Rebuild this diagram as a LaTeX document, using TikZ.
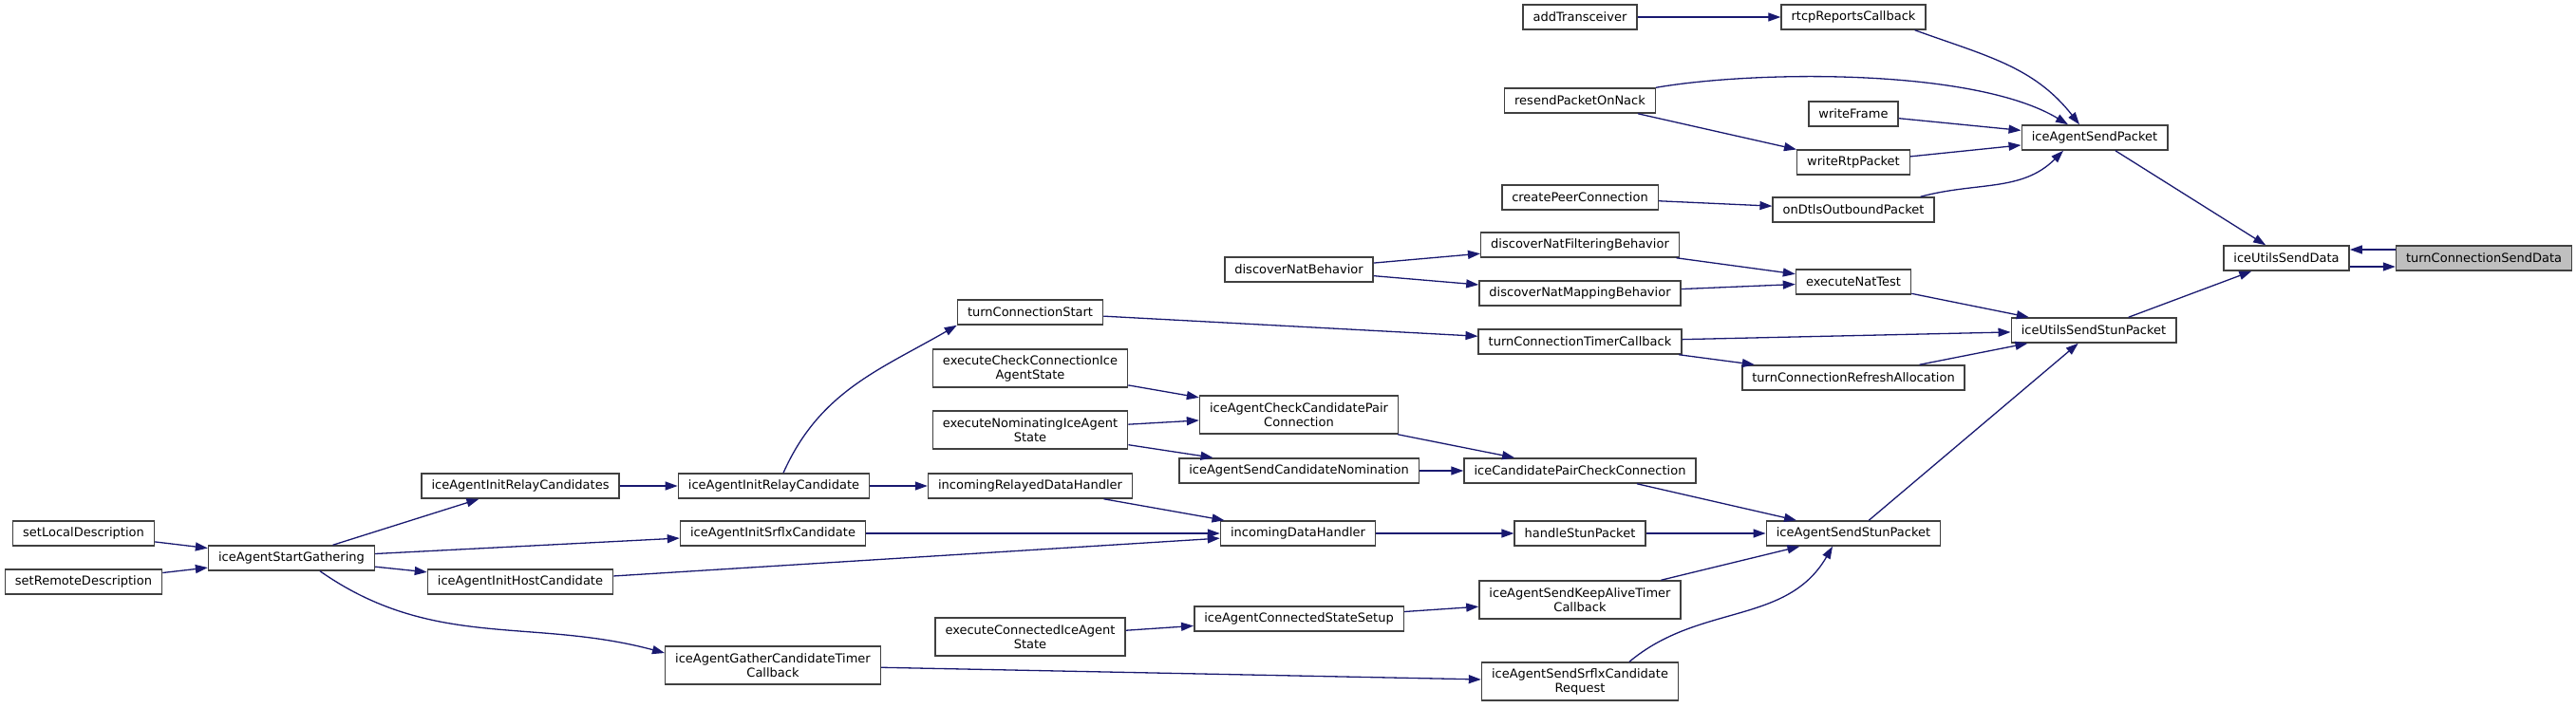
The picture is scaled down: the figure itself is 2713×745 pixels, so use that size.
\documentclass[tikz,border=0pt]{standalone}
\usepackage{fontspec}
\setmainfont{DejaVu Sans}
\usetikzlibrary{arrows.meta}
\definecolor{edgeblue}{HTML}{191970}
\definecolor{curgray}{HTML}{BFBFBF}
\begin{document}
\begin{tikzpicture}[x=1pt, y=1pt,
		t/.style = {rectangle, draw=black!75, line width=1.5pt, fill=white, inner xsep=10.5pt, inner ysep=2pt, minimum height=26pt, font=\fontsize{13}{15}\selectfont},
		t2/.style = {t, align=center, minimum height=40pt},
		cur/.style = {t, fill=curgray},
		r/.style = {->, >={Triangle[length=13pt, width=9pt]}, draw=edgeblue, line width=1.3pt}
		]
		\useasboundingbox (0,0) rectangle (2713,-745);
		
		%Nodes
		\node[t]	(sld)	at	(88,-562)	{setLocalDescription};
		\node[t]	(srd)	at	(88,-613)	{setRemoteDescription};
		\node[t]	(sg)	at	(307,-588)	{iceAgentStartGathering};
		\node[t]	(irs)	at	(548,-512)	{iceAgentInitRelayCandidates};
		\node[t]	(ihc)	at	(548,-613)	{iceAgentInitHostCandidate};
		\node[t]	(irc)	at	(815,-512)	{iceAgentInitRelayCandidate};
		\node[t]	(isc)	at	(814,-562)	{iceAgentInitSrflxCandidate};
		\node[t2]	(gtc)	at	(814,-701)	{iceAgentGatherCandidateTimer\\Callback};
		\node[t]	(tcs)	at	(1085,-329)	{turnConnectionStart};
		\node[t2]	(eci)	at	(1085,-388)	{executeCheckConnectionIce\\AgentState};
		\node[t2]	(eni)	at	(1085,-453)	{executeNominatingIceAgent\\State};
		\node[t]	(rdh)	at	(1085,-512)	{incomingRelayedDataHandler};
		\node[t2]	(eca)	at	(1085,-671)	{executeConnectedIceAgent\\State};
		\node[t]	(dnb)	at	(1368,-284)	{discoverNatBehavior};
		\node[t2]	(ccp)	at	(1368,-437)	{iceAgentCheckCandidatePair\\Connection};
		\node[t]	(scn)	at	(1368,-496)	{iceAgentSendCandidateNomination};
		\node[t]	(idh)	at	(1367,-562)	{incomingDataHandler};
		\node[t]	(css)	at	(1368,-652)	{iceAgentConnectedStateSetup};
		\node[t]	(atr)	at	(1664,-18)	{addTransceiver};
		\node[t]	(rpn)	at	(1664,-106)	{resendPacketOnNack};
		\node[t]	(cpc)	at	(1664,-208)	{createPeerConnection};
		\node[t]	(nfb)	at	(1664,-258)	{discoverNatFilteringBehavior};
		\node[t]	(nmb)	at	(1664,-309)	{discoverNatMappingBehavior};
		\node[t]	(tct)	at	(1664,-360)	{turnConnectionTimerCallback};
		\node[t]	(pcc)	at	(1664,-496)	{iceCandidatePairCheckConnection};
		\node[t]	(hsp)	at	(1664,-562)	{handleStunPacket};
		\node[t2]	(kat)	at	(1664,-632)	{iceAgentSendKeepAliveTimer\\Callback};
		\node[t2]	(sfr)	at	(1664,-718)	{iceAgentSendSrflxCandidate\\Request};
		\node[t]	(rrc)	at	(1952,-18)	{rtcpReportsCallback};
		\node[t]	(wf)	at	(1952,-120)	{writeFrame};
		\node[t]	(wrp)	at	(1952,-171)	{writeRtpPacket};
		\node[t]	(dop)	at	(1952,-221)	{onDtlsOutboundPacket};
		\node[t]	(ent)	at	(1952,-297)	{executeNatTest};
		\node[t]	(tra)	at	(1952,-398)	{turnConnectionRefreshAllocation};
		\node[t]	(ssp)	at	(1952,-562)	{iceAgentSendStunPacket};
		\node[t]	(asp)	at	(2206,-145)	{iceAgentSendPacket};
		\node[t]	(usp)	at	(2205,-348)	{iceUtilsSendStunPacket};
		\node[t]	(usd)	at	(2408,-272)	{iceUtilsSendData};
		\node[cur]	(tsd)	at	(2616,-272)	{turnConnectionSendData};
		
		%Lines
		\draw[r]	(sld)	--	(sg);
		\draw[r]	(srd)	--	(sg);
		\draw[r]	(sg)	--	(irs);
		\draw[r]	(sg)	--	(isc);
		\draw[r]	(sg)	--	(ihc);
		\draw[r]	([xshift=30pt]sg.south)	to[out=-35, in=165]	([yshift=13pt]gtc.west);
		\draw[r]	(irs)	--	(irc);
		\draw[r]	(irc)	--	(rdh);
		\draw[r]	([xshift=10pt]irc.north)	to[out=66, in=210]	(tcs.south west);
		\draw[r]	(isc)	--	(idh);
		\draw[r]	(ihc)	--	(idh);
		\draw[r]	(gtc)	--	(sfr);
		\draw[r]	(tcs)	--	(tct);
		\draw[r]	(eci)	--	(ccp);
		\draw[r]	(eni)	--	(ccp);
		\draw[r]	(eni)	--	(scn);
		\draw[r]	(rdh)	--	(idh);
		\draw[r]	(eca)	--	(css);
		\draw[r]	(dnb)	--	(nfb);
		\draw[r]	(dnb)	--	(nmb);
		\draw[r]	(ccp)	--	(pcc);
		\draw[r]	(scn)	--	(pcc);
		\draw[r]	(idh)	--	(hsp);
		\draw[r]	(css)	--	(kat);
		\draw[r]	(atr)	--	(rrc);
		\draw[r]	(rpn)	--	(wrp);
		\draw[r]	(rpn.north east)	.. controls (1850,-74) and (2080,-72) ..	([xshift=-28pt]asp.north);
		\draw[r]	(cpc)	--	(dop);
		\draw[r]	(nfb)	--	(ent);
		\draw[r]	(nmb)	--	(ent);
		\draw[r]	(tct)	--	(usp);
		\draw[r]	(tct)	--	(tra);
		\draw[r]	(pcc)	--	(ssp);
		\draw[r]	(hsp)	--	(ssp);
		\draw[r]	(kat)	--	(ssp);
		\draw[r]	([xshift=52pt]sfr.north)	to[out=40, in=-120]	([xshift=-22pt]ssp.south);
		\draw[r]	([xshift=-12pt]rrc.south east)	to[out=-20, in=128]	([xshift=-16pt]asp.north);
		\draw[r]	(wf)	--	(asp);
		\draw[r]	(wrp)	--	(asp);
		\draw[r]	([xshift=-15pt]dop.north east)	to[out=15, in=-135]	([xshift=-33pt]asp.south);
		\draw[r]	(ent)	--	(usp);
		\draw[r]	(tra)	--	(usp);
		\draw[r]	(ssp)	--	(usp);
		\draw[r]	(asp)	--	(usd);
		\draw[r]	(usp)	--	(usd);
		\draw[r]	([yshift=9pt]tsd.west)	--	([yshift=9pt]usd.east);
		\draw[r]	([yshift=-9pt]usd.east)	--	([yshift=-9pt]tsd.west);
	\end{tikzpicture}
\end{document}
